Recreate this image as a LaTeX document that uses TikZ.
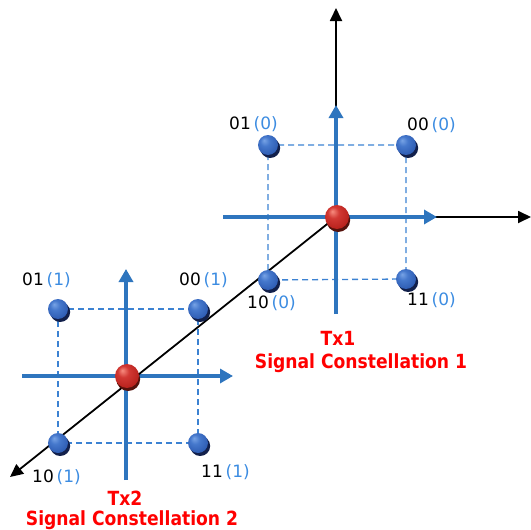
\documentclass[tikz,border=0pt]{standalone}
\usepackage{fontspec}
\setmainfont{DejaVu Sans}
\newfontfamily\redfont{DejaVu Sans Bold}[FakeStretch=0.88]
\usetikzlibrary{arrows.meta}
\definecolor{axblue}{RGB}{46,117,190}
\definecolor{dashblue}{RGB}{60,130,210}
\definecolor{lblblue}{RGB}{60,140,225}
\definecolor{txred}{RGB}{255,0,0}
\definecolor{shblue}{RGB}{18,32,75}
\definecolor{shred}{RGB}{85,18,12}
\pgfdeclareradialshading{bluesph}{\pgfpoint{-10bp}{12bp}}{rgb(0bp)=(0.47,0.64,0.90);rgb(12bp)=(0.27,0.47,0.80);rgb(30bp)=(0.18,0.36,0.70);rgb(50bp)=(0.12,0.27,0.58)}
\pgfdeclareradialshading{redsph}{\pgfpoint{-10bp}{12bp}}{rgb(0bp)=(0.97,0.55,0.50);rgb(12bp)=(0.82,0.22,0.20);rgb(30bp)=(0.72,0.13,0.11);rgb(50bp)=(0.56,0.08,0.06)}
\tikzset{
  blackaxis/.style={line width=1.8pt, black, -{Triangle[length=13pt,width=12pt]}},
  blueaxis/.style={line width=3.8pt, axblue, -{Triangle[length=13pt,width=14pt]}},
  gridline/.style={line width=1.3pt, dashblue, dash pattern=on 6pt off 4pt},
  bluedot/.style={circle, minimum size=20pt, inner sep=0pt, shading=bluesph},
  reddot/.style={circle, minimum size=24pt, inner sep=0pt, shading=redsph},
  dotshadow/.style={circle, inner sep=0pt, fill=#1},
  lbl/.style={anchor=west, inner sep=0pt, font=\fontsize{17}{19}\selectfont},
  redlbl/.style={inner sep=0pt, text=txred, font=\redfont\fontsize{19.5}{22}\selectfont},
}
\newcommand{\bitlabel}[2]{#1\,\textcolor{lblblue}{(#2)}}
\begin{document}
\begin{tikzpicture}[x=1pt,y=-1pt]
\useasboundingbox (0,0) rectangle (531,530);
% centres and grid corners
\coordinate (C1) at (336,217);
\coordinate (C2) at (126,376);
\coordinate (a01) at (268,145);
\coordinate (a00) at (406,145);
\coordinate (a10) at (268,280);
\coordinate (a11) at (406,279);
\coordinate (b01) at (58,309);
\coordinate (b00) at (198,309);
\coordinate (b10) at (58,443);
\coordinate (b11) at (198,443);
% axis end points
\coordinate (yT) at (336,8);
\coordinate (xT) at (531,217);
\coordinate (zT) at (10,477);
\coordinate (v1s) at (336,314);
\coordinate (v1e) at (336,105);
\coordinate (h1s) at (223,217);
\coordinate (h1e) at (437,217);
\coordinate (v2s) at (126,480);
\coordinate (v2e) at (126,269);
\coordinate (h2s) at (22,376);
\coordinate (h2e) at (233,376);
% black axes
\draw[blackaxis] (C1) -- (yT);
\draw[blackaxis] (C1) -- (xT);
% dashed grids
\draw[gridline] (a01) -- (a00) -- (a11) -- (a10) -- cycle;
\draw[gridline] (b01) -- (b00) -- (b11) -- (b10) -- cycle;
% blue axes
\draw[blueaxis] (v1s) -- (v1e);
\draw[blueaxis] (h1s) -- (h1e);
\draw[blueaxis] (v2s) -- (v2e);
\draw[blueaxis] (h2s) -- (h2e);
% black diagonal axis
\draw[blackaxis] (C1) -- (zT);
% dots
\foreach \p in {a01,a00,a10,a11,b01,b00,b10,b11}{
  \node[dotshadow=shblue, minimum size=20pt] at ([shift={(2.2,3)}]\p) {};
  \node[bluedot] (n\p) at (\p) {};
}
\foreach \p in {C1,C2}{
  \node[dotshadow=shred, minimum size=24pt] at ([shift={(2.2,3)}]\p) {};
  \node[reddot] (n\p) at ([shift={(1,0)}]\p) {};
}
% bit labels
\node[lbl] (l01a) at (229,124) {\bitlabel{01}{0}};
\node[lbl] (l00a) at (407,125) {\bitlabel{00}{0}};
\node[lbl] (l10a) at (247,303) {\bitlabel{10}{0}};
\node[lbl] (l11a) at (407,300) {\bitlabel{11}{0}};
\node[lbl] (l01b) at (22,280) {\bitlabel{01}{1}};
\node[lbl] (l00b) at (179,280) {\bitlabel{00}{1}};
\node[lbl] (l10b) at (32,477) {\bitlabel{10}{1}};
\node[lbl] (l11b) at (201,472) {\bitlabel{11}{1}};
% titles
\node[redlbl] (tx1) at (338,338) {Tx1};
\node[redlbl] (sc1) at (361,363) {Signal Constellation 1};
\node[redlbl] (tx2) at (125,498) {Tx2};
\node[redlbl] (sc2) at (132,520) {Signal Constellation 2};
\end{tikzpicture}
\end{document}
